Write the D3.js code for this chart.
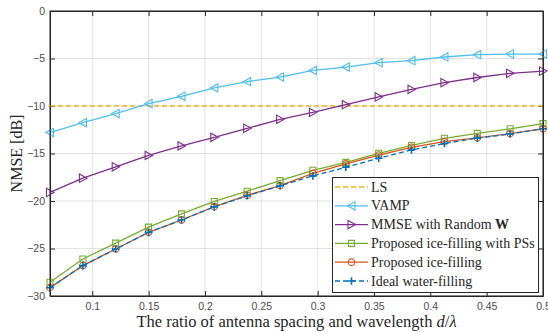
<!DOCTYPE html>
<html>
<head>
<meta charset="utf-8">
<script src="https://d3js.org/d3.v7.min.js"></script>
<style>
  body { margin: 0; background: #fff; }
  svg text { fill: #262626; }
  .tick text { font-family: "Liberation Sans", Arial, sans-serif; font-size: 10.5px; fill: #4d4d4d; }
</style>
</head>
<body>
<div id="chart"></div>
<script>
// d/lambda values
var ratio = [0.0625, 0.0917, 0.1208, 0.15, 0.1792, 0.2083, 0.2375, 0.2667,
             0.2958, 0.325, 0.3542, 0.3833, 0.4125, 0.4417, 0.4708, 0.5];

var lsNmse = [-10, -10, -10, -10, -10, -10, -10, -10, -10, -10, -10, -10, -10, -10, -10, -10];
var vampNmse = [-12.8, -11.75, -10.8, -9.75, -8.98, -8.1, -7.44, -6.95,
                -6.25, -5.9, -5.44, -5.23, -4.84, -4.6, -4.53, -4.53];
var mmseNmse = [-19.1, -17.6, -16.4, -15.2, -14.2, -13.3, -12.35, -11.4,
                -10.67, -9.86, -9.05, -8.25, -7.54, -7.0, -6.56, -6.32];
var pssNmse = [-28.56, -26.1, -24.43, -22.75, -21.35, -20.05, -18.97, -17.85,
               -16.77, -15.93, -14.98, -14.15, -13.4, -12.88, -12.4, -11.85];
var iceNmse = [-29.12, -26.8, -25.05, -23.3, -22.0, -20.6, -19.4, -18.38,
               -17.1, -16.1, -15.17, -14.35, -13.75, -13.35, -12.9, -12.39];
var waterNmse = [-29.12, -26.8, -25.05, -23.3, -22.0, -20.62, -19.45, -18.4,
                 -17.35, -16.45, -15.5, -14.63, -13.95, -13.38, -12.95, -12.39];

var xTicks = [0.1, 0.15, 0.2, 0.25, 0.3, 0.35, 0.4, 0.45, 0.5];
var yTicks = [-30, -25, -20, -15, -10, -5, 0];

var series = [
  { name: "LS", values: lsNmse, color: "#EDB120", dash: "5,3", marker: null },
  { name: "VAMP", values: vampNmse, color: "#4DBEEE", dash: null, marker: "left" },
  { name: "MMSE with Random ", bold: "W", values: mmseNmse, color: "#7E2F8E", dash: null, marker: "right" },
  { name: "Proposed ice-filling with PSs", values: pssNmse, color: "#77AC30", dash: null, marker: "square" },
  { name: "Proposed ice-filling", values: iceNmse, color: "#D95319", dash: null, marker: "circle" },
  { name: "Ideal water-filling", values: waterNmse, color: "#0072BD", dash: "5,3", marker: "plus" }
];

var width = 548, height = 332;
var pLeft = 50, pRight = 543, pTop = 11, pBottom = 296;
var serif = "'Liberation Serif', 'Times New Roman', serif";

var svg = d3.select("#chart").append("svg")
  .attr("width", width)
  .attr("height", height);

var x = d3.scaleLinear().domain([0.0625, 0.5]).range([pLeft, pRight]);
var y = d3.scaleLinear().domain([-30, 0]).range([pBottom, pTop]);

// grid
svg.append("g").selectAll("line").data(xTicks).enter().append("line")
  .attr("x1", d => x(d)).attr("x2", d => x(d))
  .attr("y1", pTop).attr("y2", pBottom)
  .attr("stroke", "#e3e3e3").attr("stroke-width", 1);
svg.append("g").selectAll("line").data(yTicks).enter().append("line")
  .attr("x1", pLeft).attr("x2", pRight)
  .attr("y1", d => y(d)).attr("y2", d => y(d))
  .attr("stroke", "#e3e3e3").attr("stroke-width", 1);

// axes
svg.append("g").attr("transform", "translate(0," + pBottom + ")")
  .call(d3.axisBottom(x).tickValues(xTicks).tickFormat(d3.format("")).tickSizeInner(-5).tickSizeOuter(0).tickPadding(7));
svg.append("g").attr("transform", "translate(0," + pTop + ")")
  .call(d3.axisTop(x).tickValues(xTicks).tickFormat("").tickSizeInner(-5).tickSizeOuter(0));
var yAxis = svg.append("g").attr("transform", "translate(" + pLeft + ",0)")
  .call(d3.axisLeft(y).tickValues(yTicks).tickFormat(d3.format("")).tickSizeInner(-5).tickSizeOuter(0).tickPadding(9));
svg.append("g").attr("transform", "translate(" + pRight + ",0)")
  .call(d3.axisRight(y).tickValues(yTicks).tickFormat("").tickSizeInner(-5).tickSizeOuter(0));
svg.selectAll(".domain").attr("stroke", "#262626");
svg.selectAll(".tick line").attr("stroke", "#262626");
yAxis.selectAll("text").attr("dx", "4px");

function markerPath(type) {
  if (type === "left") return "M-4,0L3.5,-4.2L3.5,4.2Z";
  if (type === "right") return "M4,0L-3.5,-4.2L-3.5,4.2Z";
  if (type === "square") return "M-3,-3H3V3H-3Z";
  if (type === "circle") return "M3.3,0A3.3,3.3 0 1,1 -3.3,0A3.3,3.3 0 1,1 3.3,0Z";
  if (type === "plus") return "M-3.8,0H3.8M0,-3.8V3.8";
  return null;
}

var line = d3.line().x(d => x(d[0])).y(d => y(d[1]));
var plot = svg.append("g");

series.forEach(function(s) {
  var pts = ratio.map((r, i) => [r, s.values[i]]);
  plot.append("path")
    .datum(pts)
    .attr("d", line)
    .attr("fill", "none")
    .attr("stroke", s.color)
    .attr("stroke-width", 1.3)
    .attr("stroke-dasharray", s.dash);
  if (s.marker) {
    plot.append("g").selectAll("path").data(pts).enter().append("path")
      .attr("transform", d => "translate(" + x(d[0]) + "," + y(d[1]) + ")")
      .attr("d", markerPath(s.marker))
      .attr("fill", "none")
      .attr("stroke", s.color)
      .attr("stroke-width", s.marker === "plus" ? 1.6 : 1.1);
  }
});

// box
svg.append("rect")
  .attr("x", pLeft).attr("y", pTop)
  .attr("width", pRight - pLeft).attr("height", pBottom - pTop)
  .attr("fill", "none").attr("stroke", "#262626").attr("stroke-width", 1);

// legend
var lg = svg.append("g");
lg.append("rect")
  .attr("x", 332.5).attr("y", 177.5).attr("width", 206).attr("height", 115)
  .attr("fill", "#fff").attr("stroke", "#262626").attr("stroke-width", 1);
series.forEach(function(s, i) {
  var ly = 187 + i * 18.8;
  lg.append("line")
    .attr("x1", 335).attr("x2", 368).attr("y1", ly).attr("y2", ly)
    .attr("stroke", s.color).attr("stroke-width", 1.3)
    .attr("stroke-dasharray", s.dash);
  if (s.marker) {
    lg.append("path")
      .attr("transform", "translate(351.5," + ly + ")")
      .attr("d", markerPath(s.marker))
      .attr("fill", "none").attr("stroke", s.color)
      .attr("stroke-width", s.marker === "plus" ? 1.6 : 1.1);
  }
  var t = lg.append("text")
    .attr("x", 371).attr("y", ly + 4.5)
    .style("font-family", serif)
    .style("font-size", "14px")
    .text(s.name);
  if (s.bold) t.append("tspan").style("font-weight", "bold").text(s.bold);
});

// axis labels
var xl = svg.append("text")
  .attr("x", (pLeft + pRight) / 2).attr("y", 327)
  .attr("text-anchor", "middle")
  .style("font-family", serif)
  .style("font-size", "16.5px")
  .text("The ratio of antenna spacing and wavelength ");
xl.append("tspan").style("font-style", "italic").text("d");
xl.append("tspan").text("/");
xl.append("tspan").style("font-style", "italic").text("λ");

svg.append("text")
  .attr("transform", "translate(22," + ((pTop + pBottom) / 2) + ") rotate(-90)")
  .attr("text-anchor", "middle")
  .style("font-family", serif)
  .style("font-size", "16px")
  .text("NMSE [dB]");
</script>
</body>
</html>
